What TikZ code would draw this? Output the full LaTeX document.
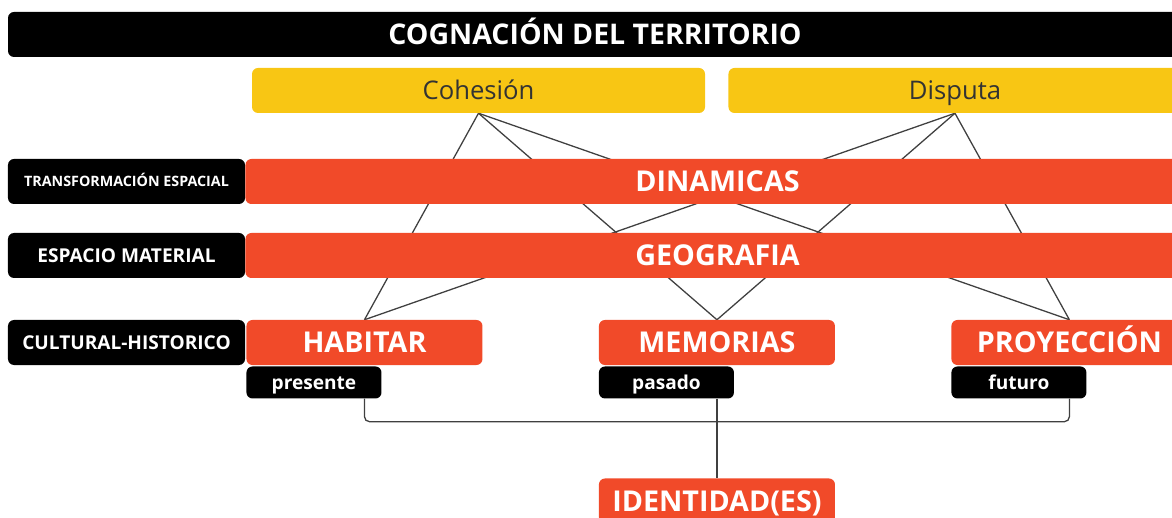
\documentclass[tikz,border=0pt]{standalone}
\usepackage{fontspec}
\setmainfont{Open Sans}
\usetikzlibrary{positioning,backgrounds}
\definecolor{rojo}{HTML}{F14A29}
\definecolor{amarillo}{HTML}{F8C614}
\definecolor{linea}{HTML}{404040}

\begin{document}
\begin{tikzpicture}[box/.style={rounded corners=0.18cm,minimum height=1.35cm,inner sep=0pt,text depth=0pt},
      titulo/.style={box,fill=black,text=white,font=\bfseries\fontsize{24.3}{28}\selectfont,text height=17.5pt,minimum width=35.22cm},
      polo/.style={box,fill=amarillo,text=black!80,font=\fontsize{21.9}{25}\selectfont,text height=15.8pt,minimum width=13.59cm},
      nivel/.style={box,fill=black,text=white,font=\bfseries\fontsize{16.3}{19}\selectfont,text height=11.7pt,minimum width=7.11cm},
      barra/.style={box,fill=rojo,text=white,font=\bfseries\fontsize{24.5}{28}\selectfont,text height=17.6pt,minimum width=28.32cm},
      eje/.style={barra,minimum width=7.08cm},
      tiempo/.style={box,fill=black,text=white,font=\bfseries\fontsize{16.3}{19}\selectfont,text height=11.7pt,minimum width=4.05cm,minimum height=0.96cm},
      enlace/.style={draw=linea,line width=1.1pt}]

    \useasboundingbox (0,0) rectangle (35.16,-15.54);
    \clip (0,0) rectangle (35.16,-15.54);

    \node[titulo] (titulo) at (17.85,-1.035) {COGNACIÓN DEL TERRITORIO};
    \node[polo] (cohesion) at (14.355,-2.715) {Cohesión};
    \node[polo] (disputa) [right=0.69cm of cohesion] {Disputa};

    % niveles
    \node[nivel,font=\bfseries\fontsize{12.2}{14}\selectfont,text height=8.8pt] (transformacion) at (3.795,-5.445) {TRANSFORMACIÓN ESPACIAL};
    \node[nivel] (material) at (3.795,-7.665) {ESPACIO MATERIAL};
    \node[nivel] (cultural) at (3.795,-10.275) {CULTURAL-HISTORICO};

    \node[barra] (dinamicas) [right=0pt of transformacion] {DINAMICAS};
    \node[barra] (geografia) [right=0pt of material] {GEOGRAFIA};

    \node[eje] (habitar) [right=0.03cm of cultural] {HABITAR};
    \node[eje] (memorias) [right=3.48cm of habitar] {MEMORIAS};
    \node[eje] (proyeccion) [right=3.48cm of memorias] {PROYECCIÓN};

    \foreach \n/\t in {habitar/presente,memorias/pasado,proyeccion/futuro} {
      \node[tiempo] (\t) [below right=0.03cm and 0cm of \n.south west] {\t};
    }

    \node[eje] (identidad) [below=3.39cm of memorias] {IDENTIDAD(ES)};

    \begin{scope}[on background layer]
      \foreach \a in {cohesion,disputa}
        \foreach \b in {habitar,memorias,proyeccion}
          \draw[enlace] (\a.south) -- (\b.north);
    \end{scope}

    \coordinate (union) at ([yshift=-0.69cm]pasado.south -| memorias.south);
    \draw[enlace,rounded corners=0.15cm] (habitar.south |- presente.south) |- (union);
    \draw[enlace,rounded corners=0.15cm] (proyeccion.south |- futuro.south) |- (union);
    \draw[enlace] (memorias.south |- pasado.south) -- (identidad.north);

\end{tikzpicture}
\end{document}
